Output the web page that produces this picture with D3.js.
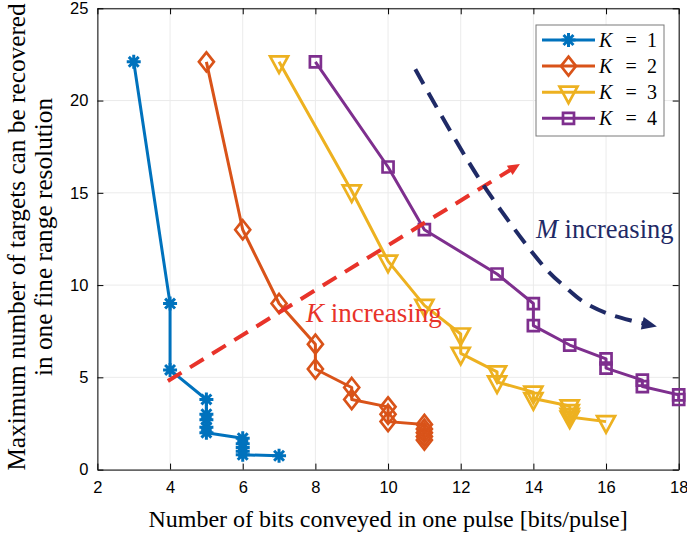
<!DOCTYPE html>
<html>
<head>
<meta charset="utf-8">
<script src="https://cdn.jsdelivr.net/npm/d3@7"></script>
<style>
  body { margin: 0; background: #fff; }
  svg { display: block; }
</style>
</head>
<body>
<svg id="paper"></svg>
<script>
// series values
let bitsK1 = [3, 4, 4, 5, 5, 5, 5, 5, 6, 6, 6, 6, 6, 7];
let targetsK1 = [22.1, 9.0, 5.4, 3.8, 3.0, 2.7, 2.3, 2.0, 1.7, 1.4, 1.2, 1.0, 0.8, 0.75];
let bitsK2 = [5, 6, 7, 8, 8, 9, 9, 10, 10, 10, 11, 11, 11, 11, 11];
let targetsK2 = [22.1, 13.0, 9.0, 6.8, 5.45, 4.45, 3.8, 3.4, 3.0, 2.6, 2.45, 2.2, 2.0, 1.8, 1.6];
let bitsK3 = [7, 9, 10, 11, 12, 12, 13, 13, 14, 14, 15, 15, 15, 15, 16];
let targetsK3 = [22.1, 15.1, 11.3, 8.9, 7.35, 6.3, 5.3, 4.75, 4.2, 3.85, 3.45, 3.2, 3.0, 2.85, 2.6];
let bitsK4 = [8, 10, 11, 13, 14, 14, 15, 16, 16, 17, 17, 18, 18];
let targetsK4 = [22.1, 16.4, 13.0, 10.6, 9.0, 7.8, 6.75, 6.0, 5.5, 4.85, 4.5, 4.05, 3.8];

let seriesNames = ["1", "2", "3", "4"];
let seriesColors = ["#0072BD", "#D95319", "#EDB120", "#7E2F8E"];
let seriesMarkers = ["asterisk", "diamond", "triangle", "square"];

let xTicks = [2, 4, 6, 8, 10, 12, 14, 16, 18];
let yTicks = [0, 5, 10, 15, 20, 25];

// annotation arrows, in data units
let redArrow = [[3.94, 4.8], [13.63, 16.56]];
let navyArrow = [[10.75, 21.7], [12.53, 15.7], [14.37, 10.82], [14.87, 9.91],
                 [15.37, 9.1], [16.02, 8.47], [16.74, 8.05], [17.4, 7.75]];
let kLabelAt = [7.74, 8.0];
let mLabelAt = [14.07, 12.55];

let margin = {top: 8.3, right: 8.3, bottom: 65.4, left: 97.4},
    width = 687 - margin.left - margin.right,
    height = 535 - margin.top - margin.bottom;

let svg = d3.select("#paper")
        .attr("width", 687)
        .attr("height", 535),
    g = svg.append("g")
        .attr("transform", "translate(" + margin.left + "," + margin.top + ")");

let x = d3.scaleLinear().domain([2, 18]).range([0, width]);
let y = d3.scaleLinear().domain([0, 25]).range([height, 0]);

// grid
g.selectAll(".gx").data(xTicks).enter().append("line")
    .attr("x1", d => x(d)).attr("x2", d => x(d))
    .attr("y1", 0).attr("y2", height)
    .attr("stroke", "#ebebeb").attr("stroke-width", 1);
g.selectAll(".gy").data(yTicks).enter().append("line")
    .attr("y1", d => y(d)).attr("y2", d => y(d))
    .attr("x1", 0).attr("x2", width)
    .attr("stroke", "#ebebeb").attr("stroke-width", 1);

// axes, ticks pointing inward (MATLAB style)
let tickFont = "'Liberation Sans', Arial, sans-serif";
let xAxis = g.append("g").attr("transform", "translate(0," + height + ")")
    .call(d3.axisBottom(x).tickValues(xTicks).tickSizeInner(-6).tickSizeOuter(0).tickPadding(12));
let yAxis = g.append("g")
    .call(d3.axisLeft(y).tickValues(yTicks).tickSizeInner(-6).tickSizeOuter(0).tickPadding(9));
let xTop = g.append("g")
    .call(d3.axisTop(x).tickValues(xTicks).tickSizeInner(-6).tickSizeOuter(0).tickFormat(""));
let yRight = g.append("g").attr("transform", "translate(" + width + ",0)")
    .call(d3.axisRight(y).tickValues(yTicks).tickSizeInner(-6).tickSizeOuter(0).tickFormat(""));
[xAxis, yAxis, xTop, yRight].forEach(a => {
    a.selectAll("path").attr("stroke", "#000").attr("stroke-width", 1);
    a.selectAll("line").attr("stroke", "#000").attr("stroke-width", 1);
    a.selectAll("text").attr("font-family", tickFont).attr("font-size", "16.5px").attr("fill", "#000");
});

// marker shapes
function markerPath(kind) {
    if (kind === "asterisk") {
        let r = 7, q = r * 0.7071;
        return "M" + (-r) + ",0L" + r + ",0M0," + (-r) + "L0," + r +
            "M" + (-q) + "," + (-q) + "L" + q + "," + q + "M" + (-q) + "," + q + "L" + q + "," + (-q);
    }
    if (kind === "diamond") {
        return "M0,-9.5L7.5,0L0,9.5L-7.5,0Z";
    }
    if (kind === "triangle") {
        return "M-9,-5.5L9,-5.5L0,11Z";
    }
    return "M-5.5,-5.5L5.5,-5.5L5.5,5.5L-5.5,5.5Z";
}

let allBits = [bitsK1, bitsK2, bitsK3, bitsK4];
let allTargets = [targetsK1, targetsK2, targetsK3, targetsK4];

let line = d3.line().x(d => x(d[0])).y(d => y(d[1]));

allBits.forEach((bits, i) => {
    let pts = bits.map((b, j) => [b, allTargets[i][j]]);
    g.append("path")
        .attr("d", line(pts))
        .attr("fill", "none")
        .attr("stroke", seriesColors[i])
        .attr("stroke-width", 3)
        .attr("stroke-linejoin", "round");
    g.selectAll(".m" + i).data(pts).enter().append("path")
        .attr("transform", d => "translate(" + x(d[0]) + "," + y(d[1]) + ")")
        .attr("d", markerPath(seriesMarkers[i]))
        .attr("fill", "none")
        .attr("stroke", seriesColors[i])
        .attr("stroke-width", seriesMarkers[i] === "asterisk" ? 3 : 2.7)
        .attr("stroke-linejoin", "miter");
});

// arrowheads
function arrowHead(tip, from, color, len, half) {
    let dx = tip[0] - from[0], dy = tip[1] - from[1];
    let L = Math.sqrt(dx * dx + dy * dy);
    let ux = dx / L, uy = dy / L;
    let bx = tip[0] - ux * len, by = tip[1] - uy * len;
    g.append("path")
        .attr("d", "M" + tip[0] + "," + tip[1] +
            "L" + (bx - uy * half) + "," + (by + ux * half) +
            "L" + (bx + uy * half) + "," + (by - ux * half) + "Z")
        .attr("fill", color);
    return [bx + ux * 2, by + uy * 2];
}

// red K arrow
let redPx = redArrow.map(p => [x(p[0]), y(p[1])]);
let redEnd = arrowHead(redPx[1], redPx[0], "#E8332A", 12, 5.5);
g.append("path")
    .attr("d", d3.line()([redPx[0], redEnd]))
    .attr("fill", "none")
    .attr("stroke", "#E8332A")
    .attr("stroke-width", 4)
    .attr("stroke-dasharray", "16,10");

// navy M arrow
let navyPx = navyArrow.map(p => [x(p[0]), y(p[1])]);
let navyTip = navyPx[navyPx.length - 1];
let navyEnd = arrowHead(navyTip, navyPx[navyPx.length - 2], "#1F2A66", 15, 6.5);
g.append("path")
    .attr("d", d3.line().curve(d3.curveCatmullRom)(navyPx.slice(0, -1).concat([navyEnd])))
    .attr("fill", "none")
    .attr("stroke", "#1F2A66")
    .attr("stroke-width", 4)
    .attr("stroke-dasharray", "17,10");

let serif = "'Liberation Serif', 'Times New Roman', serif";

let kText = g.append("text")
    .attr("x", x(kLabelAt[0])).attr("y", y(kLabelAt[1]))
    .attr("font-family", serif).attr("font-size", "27px").attr("fill", "#E8332A");
kText.append("tspan").attr("font-style", "italic").text("K");
kText.append("tspan").text(" increasing");

let mText = g.append("text")
    .attr("x", x(mLabelAt[0])).attr("y", y(mLabelAt[1]))
    .attr("font-family", serif).attr("font-size", "26.5px").attr("fill", "#1F2A66");
mText.append("tspan").attr("font-style", "italic").text("M");
mText.append("tspan").text(" increasing");

// legend
let legend = svg.append("g").attr("transform", "translate(536,25)");
legend.append("rect")
    .attr("x", 0).attr("y", 0).attr("width", 128).attr("height", 111)
    .attr("fill", "#fff").attr("stroke", "#7a7a7a").attr("stroke-width", 1);
seriesNames.forEach((name, i) => {
    let cy = 15 + i * 26.1;
    let row = legend.append("g").attr("transform", "translate(0," + cy + ")");
    row.append("line")
        .attr("x1", 6).attr("x2", 59).attr("y1", 0).attr("y2", 0)
        .attr("stroke", seriesColors[i]).attr("stroke-width", 3);
    row.append("path")
        .attr("transform", "translate(32.5,0)")
        .attr("d", markerPath(seriesMarkers[i]))
        .attr("fill", "none")
        .attr("stroke", seriesColors[i])
        .attr("stroke-width", seriesMarkers[i] === "asterisk" ? 3 : 2.7);
    let t = row.append("text")
        .attr("y", 7)
        .attr("font-family", serif).attr("font-size", "20px").attr("fill", "#000");
    t.append("tspan").attr("x", 63).attr("font-style", "italic").text("K");
    t.append("tspan").attr("x", 89.5).text("=");
    t.append("tspan").attr("x", 111).text(name);
});

// axis titles
svg.append("text")
    .attr("x", margin.left + width / 2)
    .attr("y", 527)
    .attr("text-anchor", "middle")
    .attr("font-family", serif).attr("font-size", "24px").attr("fill", "#000")
    .text("Number of bits conveyed in one pulse [bits/pulse]");

let yLabel = svg.append("text")
    .attr("transform", "translate(0," + (margin.top + height / 2 - 2) + ") rotate(-90)")
    .attr("text-anchor", "middle")
    .attr("font-family", serif).attr("font-size", "25.3px").attr("fill", "#000");
yLabel.append("tspan").attr("x", 0).attr("y", 25).text("Maximum number of targets can be recovered");
yLabel.append("tspan").attr("x", 0).attr("y", 52).text("in one fine range resolution");
</script>
</body>
</html>
